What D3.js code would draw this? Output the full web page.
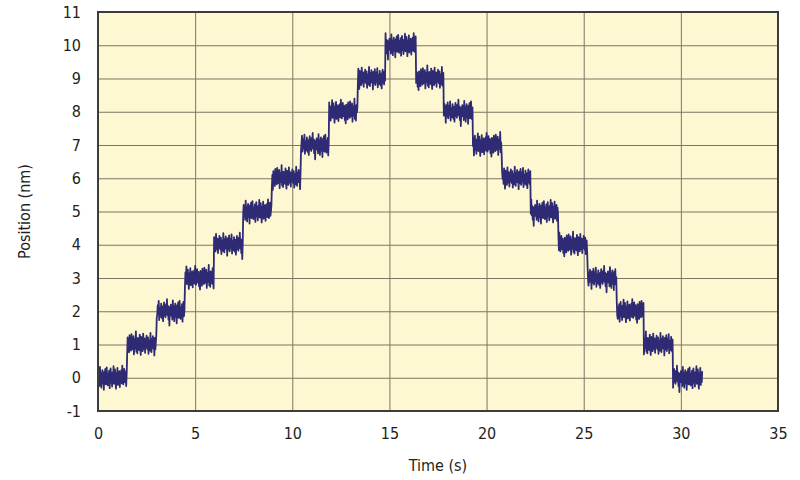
<!DOCTYPE html>
<html>
<head>
<meta charset="utf-8">
<script src="https://cdn.jsdelivr.net/npm/d3@7"></script>
<style>
  html, body { margin: 0; padding: 0; background: #fff; }
  text { font-family: "DejaVu Sans", sans-serif; font-stretch: condensed; fill: #231f20; }
</style>
</head>
<body>
<div id="chart"></div>
<script>
const WIDTH  = 800
const HEIGHT = 480

// plateau start times (s) and their positions (nm)
const stepStart = [0, 1.48, 3.02, 4.47, 5.97, 7.46, 8.95, 10.44, 11.88, 13.37, 14.80,
                   16.36, 17.80, 19.30, 20.78, 22.27, 23.70, 25.20, 26.70, 28.10, 29.60]
const levels    = [0, 1, 2, 3, 4, 5, 6, 7, 8, 9, 10,
                   9, 8, 7, 6, 5, 4, 3, 2, 1, 0]
const endTime   = 31.1

// jitter around each plateau, read as hundredths of nm
const noise = [12,-8,5,-15,20,-3,9,-18,4,14,-10,7,-22,11,-5,16,-12,2,19,-7,-14,8,-2,13,-19,6,17,-9,3,-16,
               10,-4,21,-11,1,15,-6,-20,9,-1,18,-13,5,-8,12,-17,7,-3,14,-10,22,-5,-12,4,16,-8,0,11,-15,6,
               -21,13,-2,9,-14,17,-6,3,-11,19,-9,8,-4,15,-18,2,10,-7,24,-13,5,-16,12,-1,7,-10,18,-5,-19,14,
               -3,6,-12,20,-8,1,11,-15,9,-6,16,-2,-9,13,-17,4,8,-11,21,-4,-14,10,-7,15,-1,5,-20,12,-9,3,
               17,-12,-6,11,-3,19,-16,7,2,-10,14,-5,-13,9,-18,6,16,-8,0,-11,13,-4,22,-7,10,-15,8,-26,4,-2]

const xTicks = [0, 5, 10, 15, 20, 25, 30, 35]
const yTicks = [-1, 0, 1, 2, 3, 4, 5, 6, 7, 8, 9, 10, 11]

const margin = { top: 12, right: 22, bottom: 69, left: 98 }
const w = WIDTH - margin.left - margin.right
const h = HEIGHT - margin.top - margin.bottom

const x = d3.scaleLinear().domain([0, 35]).range([0, w])
const y = d3.scaleLinear().domain([-1, 11]).range([h, 0])

// sample the trace: one point every 0.025 s
const dt = 0.025
const trace = []
for (let i = 0, t = 0; t <= endTime; i++, t = i * dt) {
    const k = d3.bisectRight(stepStart, t) - 1
    trace.push([t, levels[k] + noise[i % noise.length] * 0.0165])
}

const svg = d3.select('#chart').append('svg')
    .attr('width', WIDTH)
    .attr('height', HEIGHT)

const g = svg.append('g')
    .attr('transform', `translate(${margin.left},${margin.top})`)

g.append('rect')
    .attr('width', w)
    .attr('height', h)
    .attr('fill', '#fdf8d2')

g.append('g')
    .attr('class', 'grid-x')
    .call(d3.axisBottom(x).tickValues(xTicks).tickSize(h).tickFormat(''))
    .call(s => s.select('.domain').remove())
    .call(s => s.selectAll('line').attr('stroke', '#7d7562').attr('stroke-width', 1))

g.append('g')
    .attr('class', 'grid-y')
    .call(d3.axisLeft(y).tickValues(yTicks).tickSize(-w).tickFormat(''))
    .call(s => s.select('.domain').remove())
    .call(s => s.selectAll('line').attr('stroke', '#7d7562').attr('stroke-width', 1))

g.append('path')
    .datum(trace)
    .attr('fill', 'none')
    .attr('stroke', '#2e2a74')
    .attr('stroke-width', 1.8)
    .attr('stroke-linejoin', 'round')
    .attr('d', d3.line().x(d => x(d[0])).y(d => y(d[1])))

g.append('rect')
    .attr('width', w)
    .attr('height', h)
    .attr('fill', 'none')
    .attr('stroke', '#3c3c3c')
    .attr('stroke-width', 2)

// tick labels
g.append('g')
    .attr('transform', `translate(0,${h})`)
    .call(d3.axisBottom(x).tickValues(xTicks).tickSize(0).tickPadding(17).tickFormat(d => String(d)))
    .call(s => s.select('.domain').remove())
    .call(s => s.selectAll('text').attr('font-size', 16).style('font-family', null))

g.append('g')
    .call(d3.axisLeft(y).tickValues(yTicks).tickSize(0).tickPadding(17).tickFormat(d => String(d)))
    .call(s => s.select('.domain').remove())
    .call(s => s.selectAll('text').attr('font-size', 16).style('font-family', null))

svg.append('text')
    .attr('x', margin.left + x(17.5))
    .attr('y', 471)
    .attr('text-anchor', 'middle')
    .attr('font-size', 16)
    .text('Time (s)')

svg.append('text')
    .attr('transform', `translate(30,${margin.top + h / 2}) rotate(-90)`)
    .attr('text-anchor', 'middle')
    .attr('font-size', 16)
    .text('Position (nm)')
</script>
</body>
</html>
